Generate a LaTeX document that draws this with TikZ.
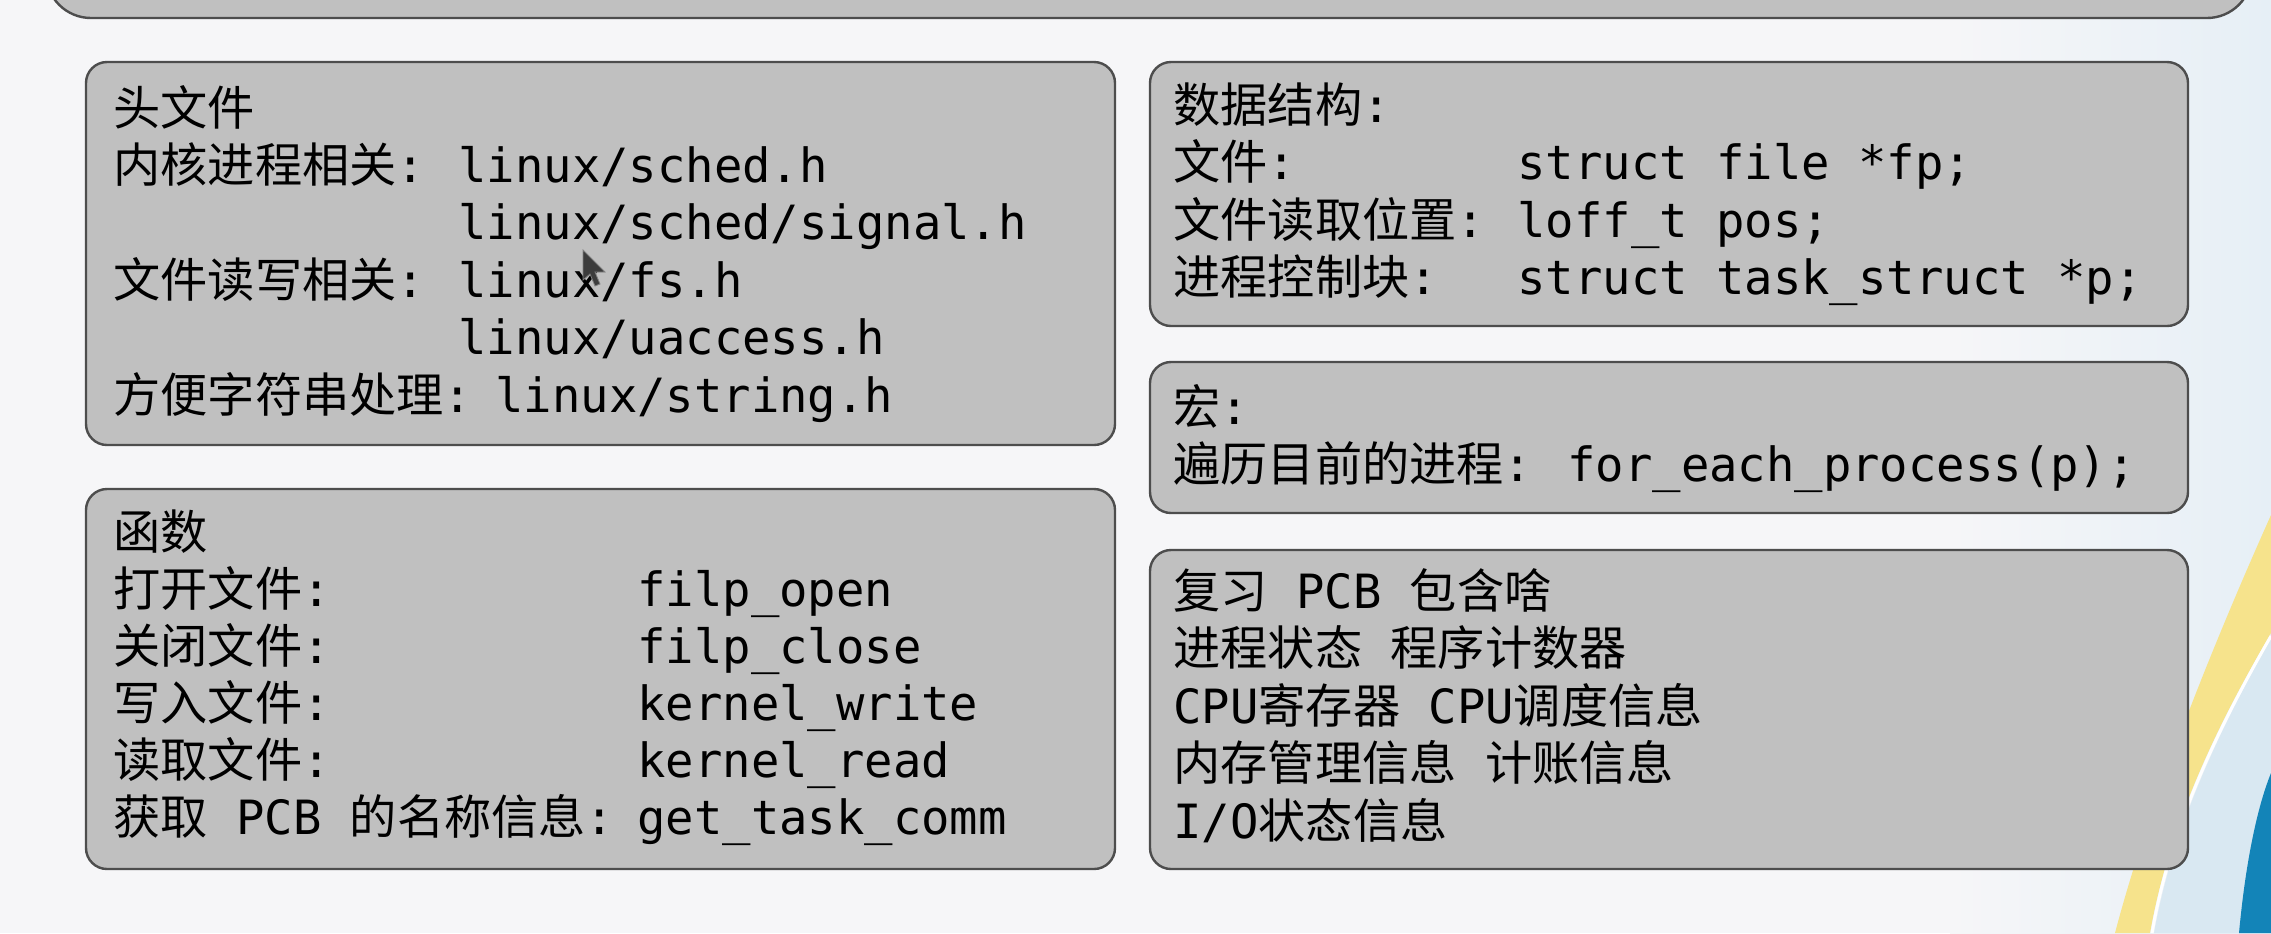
\documentclass[tikz,border=0pt]{standalone}
\usepackage{fontspec}
\setmainfont{DejaVu Sans Mono}
\newfontfamily\cjkfont{Noto Sans CJK SC}
\newcommand\zh[1]{{\cjkfont #1}}
\definecolor{bg}{HTML}{F6F6F8}
\definecolor{panel}{HTML}{C0C0C0}
\definecolor{edge}{HTML}{4D4D4D}
\definecolor{yel}{HTML}{F6E38C}
\definecolor{lblue}{HTML}{D9E8F2}
\definecolor{tint}{HTML}{E6EFF6}
\definecolor{dblue}{HTML}{1384B8}
\definecolor{cursor}{HTML}{3C3C3C}
\begin{document}
\begin{tikzpicture}[x=0.5pt,y=-0.5pt,
  panelbox/.style={fill=panel,draw=edge,line width=1.2pt,rounded corners=10.5pt},
  txt/.style={anchor=base west,inner sep=0pt,font=\fontsize{23.6pt}{28pt}\selectfont,text=black}]
\fill[bg] (0,0) rectangle (2271,933);
\useasboundingbox (0,0) rectangle (2271,933);
% background tint and swoosh
\shade[left color=bg,right color=tint] (1950,0) rectangle (2271,933);
\fill[lblue] (2154,933) .. controls (2174,822) and (2224,722) .. (2271,638) -- (2271,933) -- cycle;
\fill[yel] (2115,933) .. controls (2150,800) and (2215,640) .. (2271,515) -- (2271,633)
  .. controls (2220,720) and (2170,820) .. (2150,933) -- cycle;
\draw[white,line width=1.5pt] (2271,636) .. controls (2221,723) and (2171,823) .. (2152,933);
\fill[dblue] (2239,933) .. controls (2245,868) and (2256,810) .. (2271,773) -- (2271,933) -- cycle;
% panels
\draw[panelbox,rounded corners=22.5pt] (46,-120) rectangle (2252,18);
\draw[panelbox] (86,62) rectangle (1115,445);
\draw[panelbox] (86,489) rectangle (1115,869);
\draw[panelbox] (1150,62) rectangle (2188,326);
\draw[panelbox] (1150,362) rectangle (2188,513);
\draw[panelbox] (1150,550) rectangle (2188,869);
% header files
\node[txt] (h0) at (113,125) {\zh{头文件}};
\node[txt] (h1) at (113,182.4) {\zh{内核进程相关}:};
\node[txt] (h1v) at (458,182.4) {linux/sched.h};
\node[txt] (h2v) at (458,239.8) {linux/sched/signal.h};
\node[txt] (h3) at (113,297.2) {\zh{文件读写相关}:};
\node[txt] (h3v) at (458,297.2) {linux/fs.h};
\node[txt] (h4v) at (458,354.6) {linux/uaccess.h};
\node[txt] (h5) at (113,412) {\zh{方便字符串处理}:};
\node[txt] (h5v) at (495,412) {linux/string.h};
% functions
\node[txt] (f0) at (113,549) {\zh{函数}};
\node[txt] (f1) at (113,606) {\zh{打开文件}:};
\node[txt] (f1v) at (637,606) {filp\_open};
\node[txt] (f2) at (113,663) {\zh{关闭文件}:};
\node[txt] (f2v) at (637,663) {filp\_close};
\node[txt] (f3) at (113,720) {\zh{写入文件}:};
\node[txt] (f3v) at (637,720) {kernel\_write};
\node[txt] (f4) at (113,777) {\zh{读取文件}:};
\node[txt] (f4v) at (637,777) {kernel\_read};
\node[txt] (f5) at (113,834) {\zh{获取} PCB \zh{的名称信息}:};
\node[txt] (f5v) at (637,834) {get\_task\_comm};
% data structures
\node[txt] (d0) at (1173,122) {\zh{数据结构}:};
\node[txt] (d1) at (1173,179.5) {\zh{文件}:};
\node[txt] (d1v) at (1517,179.5) {struct file *fp;};
\node[txt] (d2) at (1173,237) {\zh{文件读取位置}:};
\node[txt] (d2v) at (1517,237) {loff\_t pos;};
\node[txt] (d3) at (1173,294.5) {\zh{进程控制块}:};
\node[txt] (d3v) at (1517,294.5) {struct task\_struct *p;};
% macro
\node[txt] (m0) at (1173,424) {\zh{宏}:};
\node[txt] (m1) at (1173,481) {\zh{遍历目前的进程}:};
\node[txt] (m1v) at (1567,481) {for\_each\_process(p);};
% PCB review
\node[txt] (p0) at (1173,608) {\zh{复习} PCB \zh{包含啥}};
\node[txt] (p1) at (1173,665.5) {\zh{进程状态} \zh{程序计数器}};
\node[txt] (p2) at (1173,723) {CPU\zh{寄存器} CPU\zh{调度信息}};
\node[txt] (p3) at (1173,780.5) {\zh{内存管理信息} \zh{计账信息}};
\node[txt] (p4) at (1173,838) {I/O\zh{状态信息}};
% mouse cursor
\fill[cursor,draw=gray,line width=0.4pt,shift={(583,250)}] (0,0) -- (0,30) -- (7,24) -- (12,36) -- (17,34) -- (12,22) -- (22,22) -- cycle;
\end{tikzpicture}
\end{document}
